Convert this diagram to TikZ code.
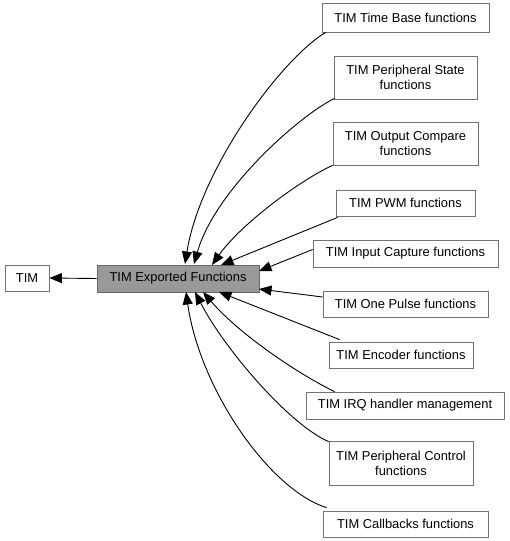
\documentclass[tikz,border=0pt]{standalone}
\usepackage{fontspec}
\setmainfont{Liberation Sans}
\usetikzlibrary{arrows.meta}
\begin{document}
\begin{tikzpicture}[x=1pt,y=-1pt,
  box/.style={draw=black!55,fill=white,line width=0.8pt,inner sep=0pt,align=center,
    font=\fontsize{12.9}{15}\selectfont},
  mainbox/.style={box,fill=black!40,draw=black!60},
  edge/.style={draw=black,line width=0.9pt,-{Triangle[length=12.5pt,width=10pt]}}]
\useasboundingbox (0,0) rectangle (510,541);
\newcommand{\bx}[7]{\node[#1,minimum width={#4-#2},minimum height={#5-#3}] (#6) at ({(#2+#4)/2},{(#3+#5)/2}) {#7};}
\bx{box}{5}{265}{49}{291}{tim}{TIM}
\bx{mainbox}{97}{265}{259}{292}{exp}{TIM Exported Functions}
\bx{box}{322}{3}{489}{32}{tb}{TIM Time Base functions}
\bx{box}{334}{56}{477}{99}{ps}{TIM Peripheral State\\functions}
\bx{box}{333}{122}{478}{165}{oc}{TIM Output Compare\\functions}
\bx{box}{336}{190}{475}{216}{pwm}{TIM PWM functions}
\bx{box}{313}{240}{498}{267}{ic}{TIM Input Capture functions}
\bx{box}{323}{291}{488}{317}{op}{TIM One Pulse functions}
\bx{box}{329}{342}{473}{368}{enc}{TIM Encoder functions}
\bx{box}{306}{392}{504}{419}{irq}{TIM IRQ handler management}
\bx{box}{329}{441}{473}{485}{pc}{TIM Peripheral Control\\functions}
\bx{box}{323}{511}{488}{537}{cb}{TIM Callbacks functions}
\draw[edge] (exp.west) -- (tim.east);
\draw[edge] (tb.south west) ++(4,0) .. controls (280,60) and (200,170) .. (185,264);
\draw[edge] (ps.south west) ++(1,-1) .. controls (300,115) and (215,190) .. (194,264);
\draw[edge] (oc.south west) ++(0,0) .. controls (300,180) and (240,225) .. (212,265);
\draw[edge] (pwm.south west) ++(2,1) -- (221,265);
\draw[edge] (ic.west) ++(0,-4) -- (259,271);
\draw[edge] (op.west) ++(0,-7) -- (259,289);
\draw[edge] (enc.north west) ++(11,-2) -- (219,292);
\draw[edge] (irq.north west) ++(29,0) .. controls (300,375) and (240,335) .. (203,292);
\draw[edge] (pc.north west) ++(0,1) .. controls (290,425) and (225,350) .. (195,292);
\draw[edge] (cb.north west) ++(4,-3) .. controls (270,490) and (200,390) .. (186,292);
\end{tikzpicture}
\end{document}
